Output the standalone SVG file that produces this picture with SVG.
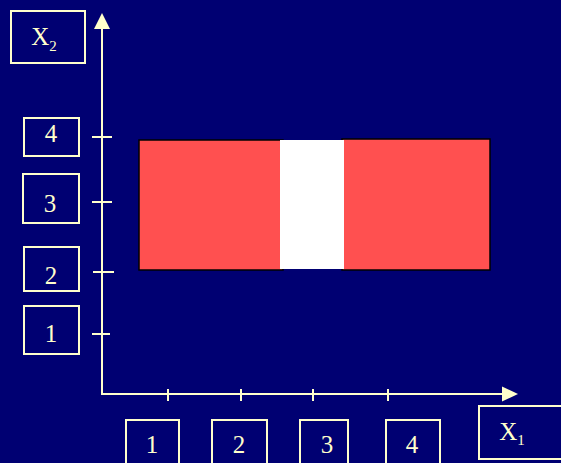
<svg xmlns="http://www.w3.org/2000/svg" width="561" height="463" viewBox="0 0 561 463">
<defs>
<style>
.box{fill:none;stroke:#FFFFCC;stroke-width:2}
.ax{stroke:#FFFFCC;stroke-width:2;fill:none}
.lbl{font-family:"Liberation Serif","Times New Roman",serif;font-size:25px;fill:#FFFFCC;text-anchor:middle}
.sub{font-size:15px}
.red{fill:#FF5050;stroke:#000;stroke-width:1.5}
</style>
</defs>
<rect x="0" y="0" width="561" height="463" fill="#000072"/>
<g id="region">
<rect class="red" x="139" y="140" width="144" height="130"/>
<rect class="red" x="342" y="139" width="148" height="131"/>
<rect x="280" y="140" width="64" height="129" fill="#FFFFFF"/>
</g>
<g id="connectors">
<line class="ax" x1="102" y1="26" x2="102" y2="395"/>
<polygon points="102,13 94,29 110,29" fill="#FFFFCC"/>
<line class="ax" x1="101" y1="394" x2="504" y2="394"/>
<polygon points="518,394 502,386.5 502,401.5" fill="#FFFFCC"/>
<line class="ax" x1="92" y1="137" x2="112" y2="137"/>
<line class="ax" x1="92" y1="202" x2="112" y2="202"/>
<line class="ax" x1="93" y1="272" x2="114" y2="272"/>
<line class="ax" x1="92" y1="334" x2="110" y2="334"/>
<line class="ax" x1="168" y1="389" x2="168" y2="401"/>
<line class="ax" x1="241" y1="389" x2="241" y2="401"/>
<line class="ax" x1="313" y1="389" x2="313" y2="401"/>
<line class="ax" x1="388" y1="389" x2="388" y2="401"/>
</g>
<g id="x2-label">
<rect class="box" x="11" y="11" width="74" height="52"/>
<text class="lbl" x="44" y="45">X<tspan class="sub" dy="6">2</tspan></text>
</g>
<g id="y4"><rect class="box" x="24" y="118" width="55" height="38"/><text class="lbl" x="51" y="142">4</text></g>
<g id="y3"><rect class="box" x="23" y="174" width="56" height="49"/><text class="lbl" x="50" y="212">3</text></g>
<g id="y2"><rect class="box" x="24" y="247" width="55" height="44"/><text class="lbl" x="51" y="284">2</text></g>
<g id="y1"><rect class="box" x="24" y="306" width="55" height="48"/><text class="lbl" x="51" y="342">1</text></g>
<g id="x1n"><rect class="box" x="126" y="420" width="53" height="50"/><text class="lbl" x="152" y="453">1</text></g>
<g id="x2n"><rect class="box" x="212" y="420" width="55" height="50"/><text class="lbl" x="239" y="453">2</text></g>
<g id="x3n"><rect class="box" x="300" y="420" width="48" height="50"/><text class="lbl" x="327" y="453">3</text></g>
<g id="x4n"><rect class="box" x="386" y="420" width="54" height="50"/><text class="lbl" x="412" y="453">4</text></g>
<g id="x1-label">
<rect class="box" x="479" y="406" width="90" height="53"/>
<text class="lbl" x="512" y="440">X<tspan class="sub" dy="5">1</tspan></text>
</g>
</svg>
